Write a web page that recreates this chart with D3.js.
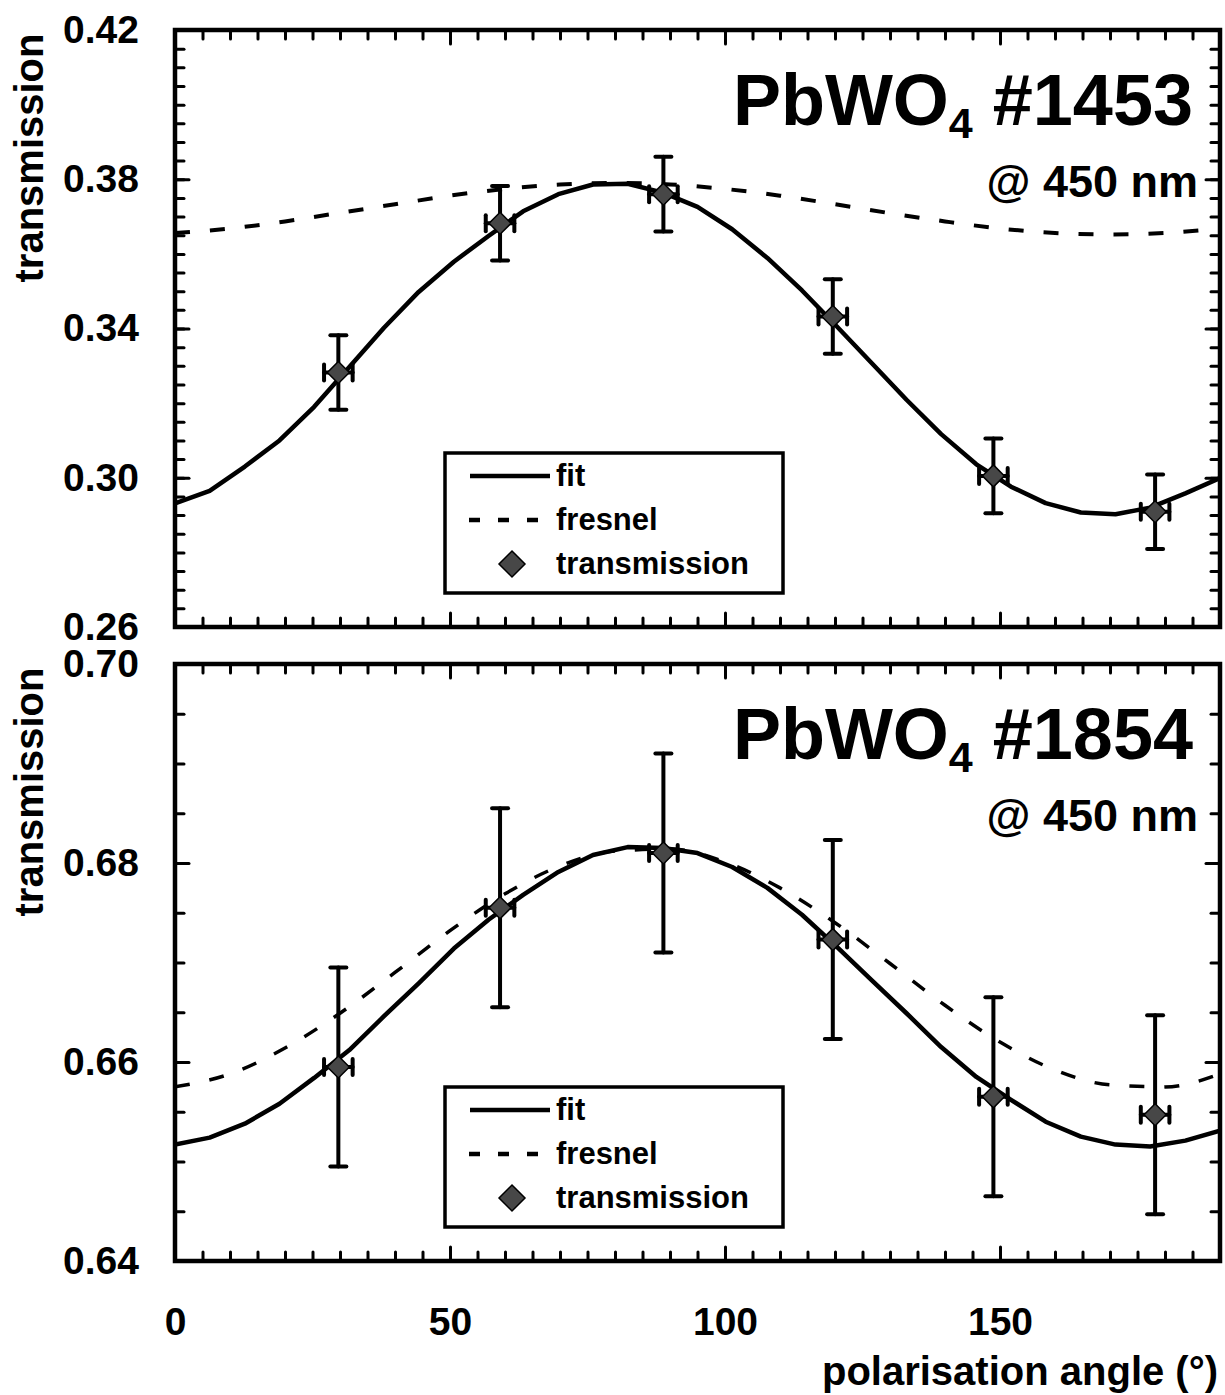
<!DOCTYPE html>
<html>
<head>
<meta charset="utf-8">
<script src="https://cdn.jsdelivr.net/npm/d3@7"></script>
<style>
  body { margin: 0; background: #fff; }
  svg text { font-family: "Liberation Sans", Arial, sans-serif; font-weight: bold; fill: #000; }
</style>
</head>
<body>
<div id="chart"></div>
<script>
// ---- data ----
var fitAngles = [0, 6.3, 12.7, 19, 25.3, 31.7, 38, 44.3, 50.7, 57, 63.3, 69.7, 76, 82.3, 88.7, 95,
                 101.3, 107.7, 114, 120.3, 126.7, 133, 139.3, 145.7, 152, 158.3, 164.7, 171, 177.3, 183.7, 190];
var fit1453 = [0.2931, 0.2965, 0.3030, 0.3100, 0.3190, 0.3297, 0.3402, 0.3498, 0.3579, 0.3648, 0.3714,
               0.3760, 0.3786, 0.3788, 0.3764, 0.3726, 0.3666, 0.3589, 0.3502, 0.3406, 0.3307, 0.3209,
               0.3117, 0.3036, 0.2976, 0.2932, 0.2907, 0.2902, 0.2920, 0.2958, 0.2999];
var fit1854 = [0.6517, 0.6524, 0.6538, 0.6558, 0.6584, 0.6612, 0.6646, 0.6679, 0.6714, 0.6743, 0.6768,
               0.6791, 0.6808, 0.6816, 0.6815, 0.6810, 0.6796, 0.6775, 0.6748, 0.6716, 0.6682, 0.6649,
               0.6615, 0.6585, 0.6562, 0.6540, 0.6525, 0.6517, 0.6515, 0.6521, 0.6531];

var fresnelAngles = [0, 10, 20, 30, 40, 50, 60, 70, 80, 90, 100, 110, 120, 130, 140, 150, 160, 170, 180, 190];
var fresnel1453 = [0.3656, 0.3668, 0.3687, 0.3710, 0.3733, 0.3756, 0.3774, 0.3786, 0.3790, 0.3786,
                   0.3774, 0.3756, 0.3733, 0.3709, 0.3687, 0.3668, 0.3656, 0.3652, 0.3656, 0.3668];
var fresnel1854 = [0.6575, 0.6588, 0.6614, 0.6649, 0.6690, 0.6732, 0.6769, 0.6797, 0.6812, 0.6814,
                   0.6801, 0.6775, 0.6740, 0.6699, 0.6657, 0.6620, 0.6592, 0.6577, 0.6575, 0.6588];

var pointAngles = [29.7, 59.1, 88.8, 119.6, 148.8, 178.2];
var angleErr = [2.6, 2.6, 2.6, 2.6, 2.6, 2.6];
var trans1453 = [0.3282, 0.3682, 0.3760, 0.3432, 0.3005, 0.2909];
var err1453 = [0.010, 0.010, 0.010, 0.010, 0.010, 0.010];
var trans1854 = [0.6595, 0.6755, 0.6810, 0.6723, 0.6565, 0.6547];
var err1854 = [0.010, 0.010, 0.010, 0.010, 0.010, 0.010];

var ticks1453 = [0.26, 0.30, 0.34, 0.38, 0.42];
var ticks1854 = [0.64, 0.66, 0.68, 0.70];
var angleTicks = [0, 50, 100, 150];
var legendLabels = ["fit", "fresnel", "transmission"];

// ---- layout ----
var width = 1225, height = 1395;
var left = 175, right = 1220, panelHeight = 597;

var svg = d3.select("#chart").append("svg")
    .attr("xmlns", "http://www.w3.org/2000/svg")
    .attr("width", width)
    .attr("height", height);

var x = d3.scaleLinear().domain([0, 190]).range([left, right]);

function zipXY(xs, ys) {
    return xs.map(function (a, i) { return [a, ys[i]]; });
}

function drawPanel(cfg) {
    var top = cfg.top, bottom = top + panelHeight;
    var y = d3.scaleLinear().domain(cfg.yDomain).range([bottom, top]);
    var g = svg.append("g").attr("class", "panel");

    // minor ticks every 5 deg / 0.005
    var minorX = d3.range(0, 39).map(function (i) { return i * 5; });
    var nY = Math.round((cfg.yDomain[1] - cfg.yDomain[0]) / 0.005);
    var minorY = d3.range(0, nY + 1).map(function (i) { return cfg.yDomain[0] + i * 0.005; });

    function addAxis(axis, transform) {
        var a = g.append("g").attr("transform", transform).call(axis);
        a.select(".domain").remove();
        a.selectAll(".tick line").attr("stroke", "#000").attr("stroke-width", 3).attr("stroke-linecap", "round");
        return a;
    }

    addAxis(d3.axisBottom(x).tickValues(minorX).tickSize(-9).tickFormat(""), "translate(0," + bottom + ")");
    addAxis(d3.axisTop(x).tickValues(minorX).tickSize(-9).tickFormat(""), "translate(0," + top + ")");
    addAxis(d3.axisLeft(y).tickValues(minorY).tickSize(-9).tickFormat(""), "translate(" + left + ",0)");
    addAxis(d3.axisRight(y).tickValues(minorY).tickSize(-9).tickFormat(""), "translate(" + right + ",0)");

    // major ticks
    addAxis(d3.axisTop(x).tickValues(angleTicks).tickSize(-14).tickFormat(""), "translate(0," + top + ")");
    addAxis(d3.axisRight(y).tickValues(cfg.yTicks).tickSize(-14).tickFormat(""), "translate(" + right + ",0)");
    var yl = addAxis(d3.axisLeft(y).tickValues(cfg.yTicks).tickSize(-14).tickPadding(36).tickFormat(d3.format(".2f")),
        "translate(" + left + ",0)");
    yl.selectAll("text").attr("font-size", 39).attr("fill", "#000")
        .attr("font-family", "Liberation Sans, Arial, sans-serif").attr("font-weight", "bold");

    var xl = addAxis(d3.axisBottom(x).tickValues(angleTicks).tickSize(-14).tickPadding(46)
        .tickFormat(cfg.showX ? d3.format("d") : ""), "translate(0," + bottom + ")");
    xl.selectAll("text").attr("font-size", 39).attr("fill", "#000")
        .attr("font-family", "Liberation Sans, Arial, sans-serif").attr("font-weight", "bold");

    // frame
    g.append("rect")
        .attr("x", left).attr("y", top)
        .attr("width", right - left).attr("height", bottom - top)
        .attr("fill", "none").attr("stroke", "#000").attr("stroke-width", 4.5);

    // y axis title
    g.append("text")
        .attr("transform", "translate(43," + (top + 128) + ") rotate(-90)")
        .attr("text-anchor", "middle")
        .attr("font-size", 40)
        .text("transmission");

    // clip curves to frame
    var clipId = "clip" + cfg.id;
    g.append("clipPath").attr("id", clipId).append("rect")
        .attr("x", left).attr("y", top).attr("width", right - left).attr("height", bottom - top);
    var plot = g.append("g").attr("clip-path", "url(#" + clipId + ")");

    var line = d3.line().x(function (d) { return x(d[0]); }).y(function (d) { return y(d[1]); });
    var smooth = d3.line().curve(d3.curveMonotoneX)
        .x(function (d) { return x(d[0]); }).y(function (d) { return y(d[1]); });

    plot.append("path")
        .datum(zipXY(fresnelAngles, cfg.fresnel))
        .attr("d", smooth)
        .attr("fill", "none").attr("stroke", "#000")
        .attr("stroke-width", cfg.dashWidth)
        .attr("stroke-dasharray", "15,20");

    plot.append("path")
        .datum(zipXY(fitAngles, cfg.fit))
        .attr("d", line)
        .attr("fill", "none").attr("stroke", "#000")
        .attr("stroke-width", 4.5).attr("stroke-linejoin", "round");

    // error bars + markers
    var pts = pointAngles.map(function (a, i) {
        return { a: a, ae: angleErr[i], v: cfg.values[i], e: cfg.errors[i] };
    });
    var pg = plot.selectAll("g.pt").data(pts).enter().append("g").attr("class", "pt");
    var cap = 8;
    pg.append("line")
        .attr("x1", function (d) { return x(d.a); }).attr("x2", function (d) { return x(d.a); })
        .attr("y1", function (d) { return y(d.v - d.e); }).attr("y2", function (d) { return y(d.v + d.e); });
    pg.append("line")
        .attr("x1", function (d) { return x(d.a) - cap; }).attr("x2", function (d) { return x(d.a) + cap; })
        .attr("y1", function (d) { return y(d.v + d.e); }).attr("y2", function (d) { return y(d.v + d.e); });
    pg.append("line")
        .attr("x1", function (d) { return x(d.a) - cap; }).attr("x2", function (d) { return x(d.a) + cap; })
        .attr("y1", function (d) { return y(d.v - d.e); }).attr("y2", function (d) { return y(d.v - d.e); });
    pg.append("line")
        .attr("x1", function (d) { return x(d.a - d.ae); }).attr("x2", function (d) { return x(d.a + d.ae); })
        .attr("y1", function (d) { return y(d.v); }).attr("y2", function (d) { return y(d.v); });
    pg.append("line")
        .attr("x1", function (d) { return x(d.a - d.ae); }).attr("x2", function (d) { return x(d.a - d.ae); })
        .attr("y1", function (d) { return y(d.v) - cap; }).attr("y2", function (d) { return y(d.v) + cap; });
    pg.append("line")
        .attr("x1", function (d) { return x(d.a + d.ae); }).attr("x2", function (d) { return x(d.a + d.ae); })
        .attr("y1", function (d) { return y(d.v) - cap; }).attr("y2", function (d) { return y(d.v) + cap; });
    pg.selectAll("line").attr("stroke", "#000").attr("stroke-width", 4).attr("stroke-linecap", "round");

    var diamond = function (r) { return "M0," + (-r) + "L" + r + ",0L0," + r + "L" + (-r) + ",0Z"; };
    pg.append("path")
        .attr("d", diamond(11))
        .attr("transform", function (d) { return "translate(" + x(d.a) + "," + y(d.v) + ")"; })
        .attr("fill", "#474747").attr("stroke", "#000").attr("stroke-width", 1.5);

    // titles
    var t = g.append("text")
        .attr("x", 1193).attr("y", top + 95)
        .attr("text-anchor", "end")
        .attr("font-size", 72);
    t.append("tspan").text("PbWO");
    t.append("tspan").attr("font-size", 43).attr("dy", 13).text("4");
    t.append("tspan").attr("dy", -13).text(" " + cfg.name);

    g.append("text")
        .attr("x", 1198).attr("y", top + 167)
        .attr("text-anchor", "end")
        .attr("font-size", 45)
        .text("@ 450 nm");

    // legend
    var lg = g.append("g").attr("transform", "translate(445," + (top + 423) + ")");
    lg.append("rect").attr("width", 338).attr("height", 140)
        .attr("fill", "#fff").attr("stroke", "#000").attr("stroke-width", 3.5);
    var rowY = [23, 67, 111];
    lg.append("line").attr("x1", 25).attr("x2", 105).attr("y1", rowY[0]).attr("y2", rowY[0])
        .attr("stroke", "#000").attr("stroke-width", 4.5);
    lg.append("line").attr("x1", 24).attr("x2", 105).attr("y1", rowY[1]).attr("y2", rowY[1])
        .attr("stroke", "#000").attr("stroke-width", 4.5).attr("stroke-dasharray", "11,18");
    lg.append("path").attr("d", diamond(13))
        .attr("transform", "translate(67," + rowY[2] + ")")
        .attr("fill", "#474747").attr("stroke", "#000").attr("stroke-width", 1.5);
    lg.selectAll("text.lab").data(legendLabels).enter().append("text")
        .attr("class", "lab")
        .attr("x", 111)
        .attr("y", function (d, i) { return rowY[i] + 10; })
        .attr("font-size", 31)
        .text(function (d) { return d; });
}

drawPanel({ id: "a", top: 30, yDomain: [0.26, 0.42], yTicks: ticks1453, fit: fit1453, fresnel: fresnel1453,
    values: trans1453, errors: err1453, name: "#1453", dashWidth: 4, showX: false });
drawPanel({ id: "b", top: 664, yDomain: [0.64, 0.70], yTicks: ticks1854, fit: fit1854, fresnel: fresnel1854,
    values: trans1854, errors: err1854, name: "#1854", dashWidth: 3.5, showX: true });

svg.append("text")
    .attr("x", 1218).attr("y", 1385)
    .attr("text-anchor", "end")
    .attr("font-size", 40)
    .text("polarisation angle (°)");
</script>
</body>
</html>
